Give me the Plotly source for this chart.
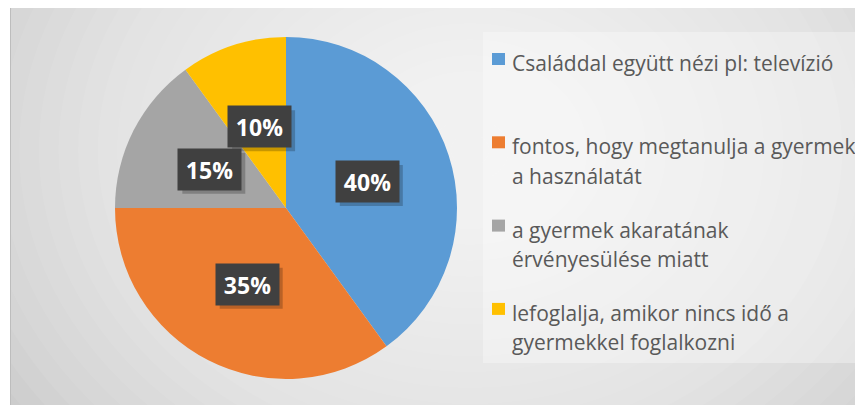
import math
import plotly.graph_objects as go

# the page body adds an 8px margin, so the figure is drawn 8px in from the corner
OFF = 8
W, H = 863 - OFF, 405 - OFF

labels = ["Családdal együtt nézi pl: televízió",
          "fontos, hogy megtanulja a gyermek<br>a használatát",
          "a gyermek akaratának<br>érvényesülése miatt",
          "lefoglalja, amikor nincs idő a<br>gyermekkel foglalkozni"]
values = [40, 35, 15, 10]
colors = ["#5B9BD5", "#ED7D31", "#A5A5A5", "#FFC000"]


def px(x):
    return (x - OFF) / W


def py(y):
    return 1 - (y - OFF) / H


# pie box in window pixels
pie_left, pie_right, pie_top, pie_bottom = 115, 457, 37, 379
cx = (pie_left + pie_right) / 2
cy = (pie_top + pie_bottom) / 2
R = min(pie_right - pie_left, pie_bottom - pie_top) / 2

fig = go.Figure(go.Pie(
    labels=[l.replace("<br>", " ") for l in labels],
    values=values,
    marker=dict(colors=colors, line=dict(width=0)),
    sort=False,
    direction="clockwise",
    rotation=0,
    textinfo="none",
    hoverinfo="label+percent",
    showlegend=False,
    domain=dict(x=[px(pie_left), px(pie_right)], y=[py(pie_bottom), py(pie_top)]),
))

shapes = []
# chart area background
shapes.append(dict(type="rect", xref="paper", yref="paper",
                   x0=px(10), x1=1.01, y0=-0.01, y1=py(7),
                   fillcolor="#c6c6c6", line=dict(width=0), layer="below"))
# radial-ish gradient
steps = 30
for i in range(steps):
    r = 560 * (1 - i / steps)
    shapes.append(dict(type="circle", xref="paper", yref="paper",
                       x0=px(470 - r * 1.05), x1=px(470 + r * 1.05),
                       y0=py(150 + r * 0.85), y1=py(150 - r * 0.85),
                       fillcolor="rgba(255,255,255,0.068)", line=dict(width=0),
                       layer="below"))
# white margins and frame
shapes.append(dict(type="rect", xref="paper", yref="paper",
                   x0=-0.01, x1=px(10), y0=-0.01, y1=1.01,
                   fillcolor="white", line=dict(width=0), layer="below"))
shapes.append(dict(type="rect", xref="paper", yref="paper",
                   x0=-0.01, x1=1.01, y0=py(7), y1=1.01,
                   fillcolor="white", line=dict(width=0), layer="below"))
shapes.append(dict(type="rect", xref="paper", yref="paper",
                   x0=px(10.5), x1=1.01, y0=-0.01, y1=py(7.5),
                   fillcolor="rgba(0,0,0,0)", line=dict(color="#bdbdbd", width=1),
                   layer="below"))
# legend box
shapes.append(dict(type="rect", xref="paper", yref="paper",
                   x0=px(483), x1=px(859), y0=py(363), y1=py(32),
                   fillcolor="rgba(255,255,255,0.32)", line=dict(width=0),
                   layer="below"))

annotations = []
# data labels
total = sum(values)
start = 0
bw, bh = 63, 41
for v in values:
    mid = (start + v / 2) / total * 2 * math.pi
    start += v
    lx = cx + 0.5 * R * math.sin(mid)
    ly = cy - 0.5 * R * math.cos(mid)
    shapes.append(dict(type="rect", xref="paper", yref="paper",
                       x0=px(lx - bw / 2 + 4), x1=px(lx + bw / 2 + 4),
                       y0=py(ly + bh / 2 + 4), y1=py(ly - bh / 2 + 4),
                       fillcolor="rgba(0,0,0,0.22)", line=dict(width=0),
                       layer="above"))
    annotations.append(dict(x=px(lx), y=py(ly), xref="paper", yref="paper",
                            text=f"<b>{v}%</b>", showarrow=False,
                            xanchor="center", yanchor="middle",
                            width=bw, height=bh, borderpad=0,
                            bgcolor="#404040",
                            font=dict(family="Open Sans", size=23, color="white")))

# legend drawn by hand
leg_y0, leg_step, line_gap = 63, 83.3, 29.5
for i, (lab, col) in enumerate(zip(labels, colors)):
    y = leg_y0 + i * leg_step
    shapes.append(dict(type="rect", xref="paper", yref="paper",
                       x0=px(492), x1=px(505), y0=py(y + 2), y1=py(y - 10),
                       fillcolor=col, line=dict(width=0)))
    for j, line in enumerate(lab.split("<br>")):
        annotations.append(dict(x=px(510), y=py(y + j * line_gap), xref="paper", yref="paper",
                                text=line, showarrow=False,
                                xanchor="left", yanchor="middle",
                                font=dict(family="Open Sans", size=21, color="#595959")))

fig.update_layout(
    width=W, height=H,
    margin=dict(l=0, r=0, t=0, b=0),
    paper_bgcolor="white",
    shapes=shapes,
    annotations=annotations,
)

fig.write_html("out.html")
